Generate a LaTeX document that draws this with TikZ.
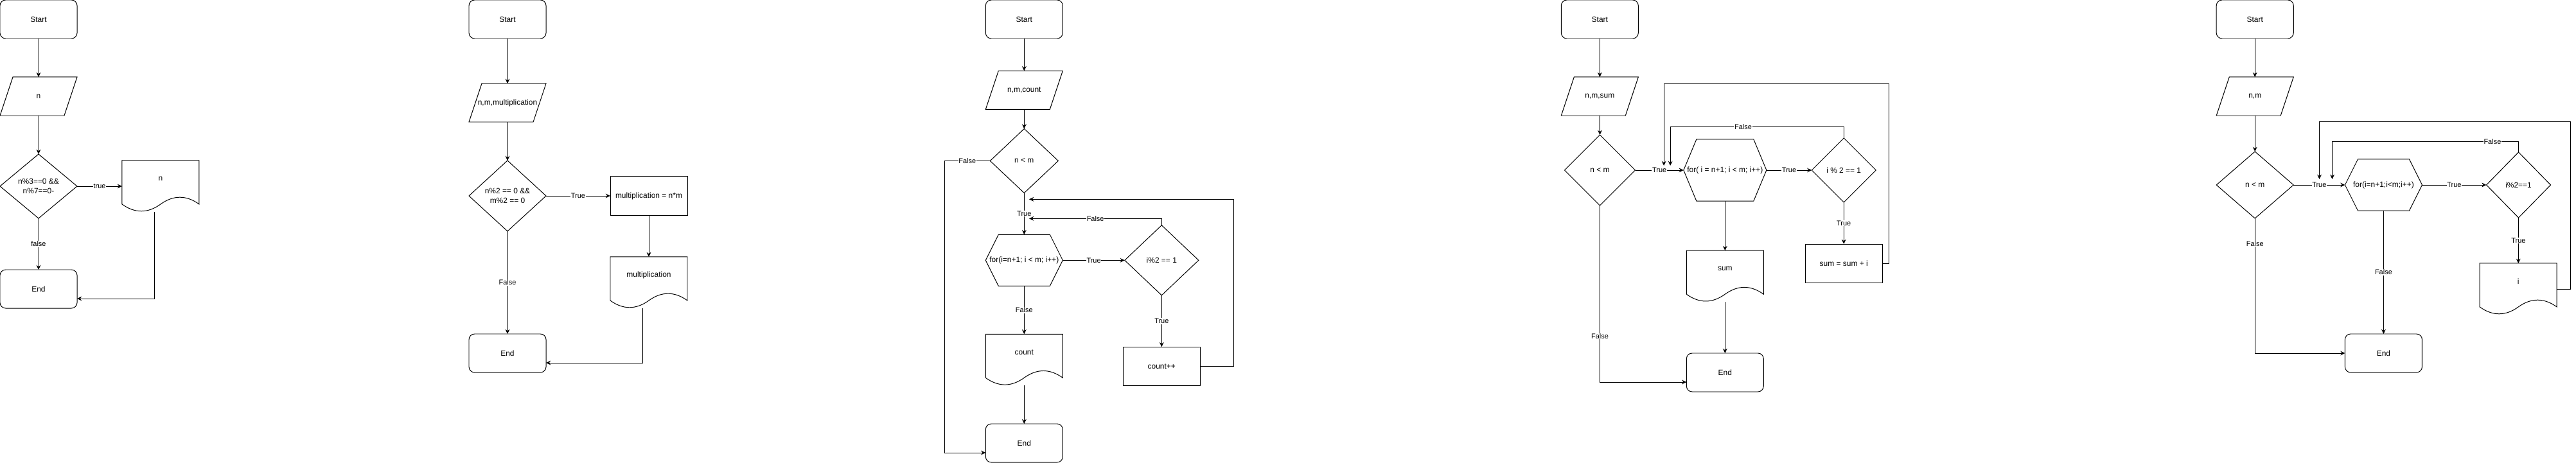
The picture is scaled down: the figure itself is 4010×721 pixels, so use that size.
\documentclass[tikz,border=0pt]{standalone}
\usepackage{fontspec}
\setmainfont{Liberation Sans}
\usetikzlibrary{arrows.meta,shapes.geometric}

\newcommand{\boxfont}{\fontsize{8.5}{10.5}\selectfont}
\newcommand{\lblfont}{\fontsize{7.8}{9}\selectfont}
% input/output box: name, centre, text
\newcommand{\ioshape}[3]{%
  \node[txt, minimum width=3cm, minimum height=1.5cm] (#1) at (#2) {#3};
  \draw ([xshift=0.5cm]#1.north west) -- (#1.north east) -- ([xshift=-0.5cm]#1.south east) -- (#1.south west) -- cycle;}
% printed document: name, centre, text
\newcommand{\docshape}[3]{%
  \node[txt, minimum width=3cm, minimum height=2cm] (#1) at (#2) {\raisebox{0.3cm}[\height][\depth]{#3}};
  \draw[shift={(#1.north west)}] (0,0) -- (120,0) -- (120,68) .. controls (100,53.6) and (80,53.6) .. (60,68)
    .. controls (40,82.4) and (20,82.4) .. (0,68) -- cycle;}
% loop box: name, centre, size, text
\newcommand{\hexshape}[4]{%
  \node[txt, #3] (#1) at (#2) {#4};
  \draw ([xshift=0.5cm]#1.north west) -- ([xshift=-0.5cm]#1.north east) -- (#1.east)
    -- ([xshift=-0.5cm]#1.south east) -- ([xshift=0.5cm]#1.south west) -- (#1.west) -- cycle;}

\begin{document}
\begin{tikzpicture}[x=0.025cm, y=-0.025cm, line width=0.7pt,
  txt/.style={inner sep=0pt, outer sep=0pt, font=\boxfont, align=center},
  term/.style={txt, draw, rounded corners=0.22cm, minimum width=3cm, minimum height=1.5cm},
  proc/.style={txt, draw, minimum width=3cm, minimum height=1.5cm},
  cond/.style={txt, draw, diamond},
  lbl/.style={fill=white, inner sep=0.5pt, font=\lblfont},
  arr/.style={-{Stealth[length=0.18cm, width=0.17cm, inset=0.06cm]}}]
\useasboundingbox (0,0) rectangle (4010,721);

%%%%% multiple of 3 and 7 %%%%%
\node[term] (start1) at (60,30) {Start};
\ioshape{in1}{60,150}{n}
\node[cond, minimum width=3cm, minimum height=2.5cm] (cond1) at (60,290) {n\%3==0 \&\&\\n\%7==0-};
\docshape{out1}{250,290}{n}
\node[term] (end1) at (60,450) {End};

\draw[arr] (start1.south) -- (in1.north);
\draw[arr] (in1.south) -- (cond1.north);
\draw[arr] (cond1.east) -- node[lbl]{true} (out1.west);
\draw[arr] (cond1.south) -- node[lbl]{false} (end1.north);
\draw[arr] ([xshift=-0.25cm]out1.south) |- ([yshift=-0.375cm]end1.east);

%%%%% even product %%%%%
\node[term] (start2) at (790,30) {Start};
\ioshape{in2}{790,160}{n,m,multiplication}
\node[cond, minimum width=3cm, minimum height=2.75cm] (cond2) at (790,305) {n\%2 == 0 \&\&\\m\%2 == 0};
\node[proc] (calc2) at (1010,305) {multiplication = n*m};
\docshape{out2}{1010,440}{multiplication}
\node[term] (end2) at (790,550) {End};

\draw[arr] (start2.south) -- (in2.north);
\draw[arr] (in2.south) -- (cond2.north);
\draw[arr] (cond2.east) -- node[lbl]{True} (calc2.west);
\draw[arr] (calc2.south) -- (out2.north);
\draw[arr] (cond2.south) -- node[lbl]{False} (end2.north);
\draw[arr] ([xshift=-0.25cm]out2.south) |- ([yshift=-0.375cm]end2.east);

%%%%% count odd numbers %%%%%
\node[term] (start3) at (1594.3,30) {Start};
\ioshape{in3}{1594.3,140.3}{n,m,count}
\node[cond, minimum width=2.65cm, minimum height=2.5cm] (cond3) at (1594.3,250.5) {n < m};
\hexshape{loop3}{1594.3,405.3}{minimum width=3cm, minimum height=2cm}{for(i=n+1; i < m; i++)}
\node[cond, minimum width=2.875cm, minimum height=2.725cm] (odd3) at (1808.3,405.3) {i\%2 == 1};
\node[proc] (inc3) at (1808.3,570.2) {count++};
\docshape{out3}{1594.3,560.3}{count}
\node[term] (end3) at (1594.3,690) {End};
\coordinate (ret3a) at (1602,310.3);
\coordinate (ret3b) at (1602,340.3);

\draw[arr] (start3.south) -- (in3.north);
\draw[arr] (in3.south) -- (cond3.north);
\draw[arr] (cond3.south) -- node[lbl]{True} (loop3.north);
\draw[arr] (cond3.west) -- node[lbl]{False} ++(-71,0) |- ([yshift=-0.375cm]end3.west);
\draw[arr] (loop3.east) -- node[lbl]{True} (odd3.west);
\draw[arr] (loop3.south) -- node[lbl]{False} (out3.north);
\draw[arr] (odd3.south) -- node[lbl]{True} (inc3.north);
\draw[arr] (out3.south) -- (end3.north);
\draw[arr] (inc3.east) -- ++(52,0) |- (ret3a);
\draw[arr] (odd3.north) |- node[lbl, pos=0.75]{False} (ret3b);

%%%%% sum of odd numbers %%%%%
\node[term] (start4) at (2490.3,30) {Start};
\ioshape{in4}{2490.3,150}{n,m,sum}
\node[cond, minimum width=2.75cm, minimum height=2.75cm] (cond4) at (2490.5,265) {n < m};
\hexshape{loop4}{2685.3,265}{minimum width=3.225cm, minimum height=2.4cm}{for( i = n+1; i < m; i++)}
\node[cond, minimum width=2.5cm, minimum height=2.5cm] (odd4) at (2870.2,265) {i \% 2 == 1};
\node[proc] (add4) at (2870.2,410) {sum = sum + i};
\docshape{out4}{2685.3,430.2}{sum}
\node[term] (end4) at (2685.3,580) {End};
\coordinate (top4) at (2940,130.5);
\coordinate (ret4a) at (2590.1,258);
\coordinate (ret4b) at (2600.1,258);

\draw[arr] (start4.south) -- (in4.north);
\draw[arr] (in4.south) -- (cond4.north);
\draw[arr] (cond4.east) -- node[lbl]{True} (loop4.west);
\draw[arr] (loop4.east) -- node[lbl]{True} (odd4.west);
\draw[arr] (odd4.south) -- node[lbl]{True} (add4.north);
\draw[arr] (loop4.south) -- (out4.north);
\draw[arr] (out4.south) -- (end4.north);
\draw[arr] (cond4.south) |- node[lbl, pos=0.37]{False} ([yshift=-0.375cm]end4.west);
\draw[arr] (add4.east) -| (top4) -| (ret4a);
\draw[arr] (odd4.north) -- ++(0,-17) -| node[lbl, pos=0.29]{False} (ret4b);

%%%%% print odd numbers %%%%%
\node[term] (start5) at (3510.2,30) {Start};
\ioshape{in5}{3510.2,150}{n,m}
\node[cond, minimum width=3cm, minimum height=2.6cm] (cond5) at (3510.2,288) {n < m};
\hexshape{loop5}{3710.4,288}{minimum width=3cm, minimum height=2cm}{for(i=n+1;i<m;i++)}
\node[cond, minimum width=2.5cm, minimum height=2.55cm] (odd5) at (3920.5,288) {i\%2==1};
\docshape{out5}{3920.2,450}{i}
\node[term] (end5) at (3710.4,550) {End};
\coordinate (top5) at (4001.2,189.8);
\coordinate (ret5a) at (3610.5,279);
\coordinate (ret5b) at (3630.5,279);

\draw[arr] (start5.south) -- (in5.north);
\draw[arr] (in5.south) -- (cond5.north);
\draw[arr] (cond5.east) -- node[lbl]{True} (loop5.west);
\draw[arr] (loop5.east) -- node[lbl]{True} (odd5.west);
\draw[arr] (odd5.south) -- node[lbl]{True} (out5.north);
\draw[arr] (loop5.south) -- node[lbl]{False} (end5.north);
\draw[arr] (cond5.south) |- node[lbl, pos=0.094]{False} (end5.west);
\draw[arr] (out5.east) -| (top5) -| (ret5a);
\draw[arr] (odd5.north) -- ++(0,-16.6) -| node[lbl, pos=0.07]{False} (ret5b);

\end{tikzpicture}
\end{document}
